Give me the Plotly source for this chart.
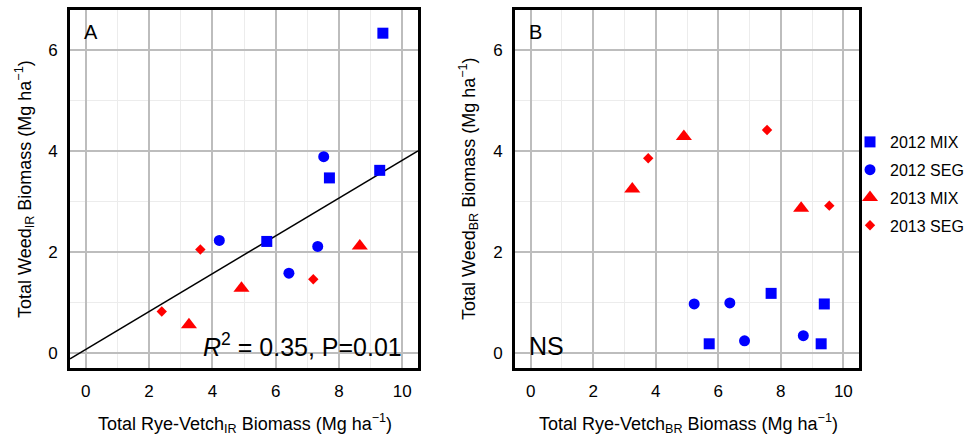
import plotly.graph_objects as go

# Weed biomass vs rye-vetch biomass, two sampling methods (IR, BR)
groups = ["2012 MIX", "2012 SEG", "2013 MIX", "2013 SEG"]
colors = {"2012 MIX": "#0000FF", "2012 SEG": "#0000FF", "2013 MIX": "#FF0000", "2013 SEG": "#FF0000"}
symbols = {"2012 MIX": "square", "2012 SEG": "circle", "2013 MIX": "triangle-up", "2013 SEG": "diamond"}
sizes = {"2012 MIX": 11, "2012 SEG": 11, "2013 MIX": 14, "2013 SEG": 8}

# Panel A (IR)
ir_x = {
    "2012 MIX": [9.39, 7.70, 9.29, 5.72],
    "2012 SEG": [7.52, 4.22, 7.33, 6.42],
    "2013 MIX": [8.66, 4.92, 3.26],
    "2013 SEG": [3.62, 7.19, 2.40],
}
ir_y = {
    "2012 MIX": [6.34, 3.47, 3.62, 2.21],
    "2012 SEG": [3.89, 2.23, 2.11, 1.58],
    "2013 MIX": [2.12, 1.28, 0.56],
    "2013 SEG": [2.05, 1.46, 0.82],
}

# Panel B (BR)
br_x = {
    "2012 MIX": [7.69, 9.39, 5.71, 9.29],
    "2012 SEG": [5.23, 6.37, 6.84, 8.72],
    "2013 MIX": [3.25, 4.90, 8.65],
    "2013 SEG": [3.76, 7.56, 9.55],
}
br_y = {
    "2012 MIX": [1.18, 0.97, 0.18, 0.18],
    "2012 SEG": [0.97, 0.99, 0.24, 0.34],
    "2013 MIX": [3.25, 4.29, 2.87],
    "2013 SEG": [3.86, 4.42, 2.92],
}

# Linear fit for panel A
fit_intercept = 0.07
fit_slope = 0.375
x_range = [-0.5, 10.5]
y_range = [-0.3, 6.8]

W, H = 969, 436
FONT = "Arial, Liberation Sans, sans-serif"

fig = go.Figure()

fit_x = list(x_range)
fit_y = [fit_intercept + fit_slope * v for v in fit_x]
fig.add_trace(go.Scatter(x=fit_x, y=fit_y, mode="lines", line=dict(color="black", width=1.5),
                         showlegend=False, hoverinfo="skip", xaxis="x", yaxis="y"))

for g in groups:
    fig.add_trace(go.Scatter(
        x=ir_x[g], y=ir_y[g], mode="markers", name=g, legendgroup=g,
        marker=dict(symbol=symbols[g], color=colors[g], size=sizes[g], line=dict(width=0)),
        xaxis="x", yaxis="y"))
for g in groups:
    fig.add_trace(go.Scatter(
        x=br_x[g], y=br_y[g], mode="markers", name=g, legendgroup=g, showlegend=False,
        marker=dict(symbol=symbols[g], color=colors[g], size=sizes[g], line=dict(width=0)),
        xaxis="x2", yaxis="y2"))

def px(v):
    return v / W

def py(v):
    return 1 - v / H

axis_common = dict(
    showline=True, linewidth=3, linecolor="black", mirror=True,
    showgrid=True, gridcolor="#bdbdbd", gridwidth=1.5,
    zeroline=False, ticks="", tick0=0, dtick=2,
    minor=dict(dtick=1, showgrid=True, gridcolor="#ececec", gridwidth=1.2),
    tickfont=dict(family=FONT, size=17, color="black"),
    ticklabelstandoff=6,
)

fig.update_layout(
    width=W, height=H,
    margin=dict(l=0, r=0, t=0, b=0),
    paper_bgcolor="white", plot_bgcolor="white",
    font=dict(family=FONT, color="black"),
    xaxis=dict(domain=[px(70), px(418)], range=x_range, anchor="y", **axis_common),
    yaxis=dict(domain=[py(368), py(10)], range=y_range, anchor="x", **axis_common),
    xaxis2=dict(domain=[px(515), px(859)], range=x_range, anchor="y2", **axis_common),
    yaxis2=dict(domain=[py(368), py(10)], range=y_range, anchor="x2", **axis_common),
    legend=dict(x=1, y=py(125), xanchor="right", yanchor="top",
                bgcolor="rgba(0,0,0,0)", font=dict(family=FONT, size=16, color="black"),
                traceorder="grouped", tracegroupgap=4),
    showlegend=True,
)

ann = [
    dict(text="A", x=px(82), y=py(32), xanchor="left", yanchor="middle", font=dict(size=20)),
    dict(text="B", x=px(527), y=py(32), xanchor="left", yanchor="middle", font=dict(size=20)),
    dict(text="<i>R</i><sup>2</sup> = 0.35, P=0.01", x=px(404), y=py(345), xanchor="right",
         yanchor="middle", font=dict(size=25)),
    dict(text="NS", x=px(527), y=py(346), xanchor="left", yanchor="middle", font=dict(size=25)),
    dict(text="Total Rye-Vetch<sub>IR</sub> Biomass (Mg ha<sup>\u22121</sup>)", x=px(245), y=py(423),
         xanchor="center", yanchor="middle", font=dict(size=18)),
    dict(text="Total Rye-Vetch<sub>BR</sub> Biomass (Mg ha<sup>\u22121</sup>)", x=px(688), y=py(423),
         xanchor="center", yanchor="middle", font=dict(size=18)),
    dict(text="Total Weed<sub>IR</sub> Biomass (Mg ha<sup>\u22121</sup>)", x=px(24), y=py(189),
         xanchor="center", yanchor="middle", textangle=-90, font=dict(size=18)),
    dict(text="Total Weed<sub>BR</sub> Biomass (Mg ha<sup>\u22121</sup>)", x=px(468), y=py(189),
         xanchor="center", yanchor="middle", textangle=-90, font=dict(size=18)),
]
for a in ann:
    a.update(xref="paper", yref="paper", showarrow=False)
    a["font"] = dict(family=FONT, color="black", **a["font"])
fig.update_layout(annotations=ann)

fig.write_html("out.html")
